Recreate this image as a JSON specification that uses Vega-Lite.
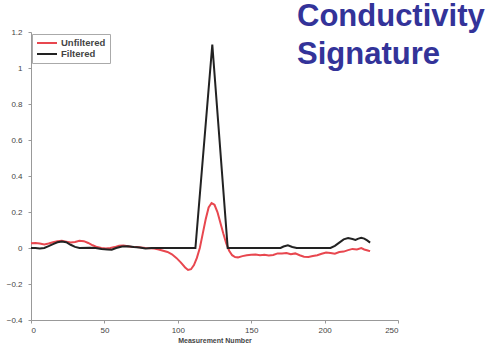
{
  "$schema": "https://vega.github.io/schema/vega-lite/v6.json",
  "width": 367,
  "height": 288,
  "autosize": {"type": "none"},
  "padding": {"left": 31, "top": 32, "right": 94, "bottom": 26},
  "background": "white",
  "title": {
    "text": ["Conductivity", "Signature"],
    "anchor": "end",
    "frame": "group",
    "align": "left",
    "baseline": "top",
    "dx": -101,
    "dy": 43,
    "offset": 0,
    "font": "Liberation Sans",
    "fontSize": 31,
    "fontWeight": "bold",
    "color": "#333399",
    "lineHeight": 38
  },
  "config": {
    "view": {"stroke": null},
    "axis": {
      "grid": false,
      "domainColor": "#999999",
      "tickColor": "#999999",
      "labelFont": "Liberation Sans",
      "labelFontSize": 8,
      "labelColor": "#444444",
      "titleFont": "Liberation Sans",
      "titleFontSize": 7,
      "titleFontWeight": "bold",
      "titleColor": "#444444"
    }
  },
  "data": {
    "values": [
      {"m": 0, "v": 0.026, "s": "Unfiltered"},
      {"m": 3, "v": 0.028, "s": "Unfiltered"},
      {"m": 6, "v": 0.025, "s": "Unfiltered"},
      {"m": 9, "v": 0.02, "s": "Unfiltered"},
      {"m": 12, "v": 0.025, "s": "Unfiltered"},
      {"m": 15, "v": 0.032, "s": "Unfiltered"},
      {"m": 18, "v": 0.038, "s": "Unfiltered"},
      {"m": 21, "v": 0.04, "s": "Unfiltered"},
      {"m": 24, "v": 0.035, "s": "Unfiltered"},
      {"m": 27, "v": 0.03, "s": "Unfiltered"},
      {"m": 30, "v": 0.033, "s": "Unfiltered"},
      {"m": 33, "v": 0.04, "s": "Unfiltered"},
      {"m": 36, "v": 0.038, "s": "Unfiltered"},
      {"m": 39, "v": 0.028, "s": "Unfiltered"},
      {"m": 42, "v": 0.015, "s": "Unfiltered"},
      {"m": 45, "v": 0.005, "s": "Unfiltered"},
      {"m": 48, "v": 0.0, "s": "Unfiltered"},
      {"m": 51, "v": -0.003, "s": "Unfiltered"},
      {"m": 54, "v": 0.0, "s": "Unfiltered"},
      {"m": 57, "v": 0.005, "s": "Unfiltered"},
      {"m": 60, "v": 0.012, "s": "Unfiltered"},
      {"m": 63, "v": 0.014, "s": "Unfiltered"},
      {"m": 66, "v": 0.01, "s": "Unfiltered"},
      {"m": 69, "v": 0.006, "s": "Unfiltered"},
      {"m": 72, "v": 0.005, "s": "Unfiltered"},
      {"m": 75, "v": 0.003, "s": "Unfiltered"},
      {"m": 78, "v": 0.0, "s": "Unfiltered"},
      {"m": 81, "v": -0.002, "s": "Unfiltered"},
      {"m": 84, "v": -0.003, "s": "Unfiltered"},
      {"m": 87, "v": -0.008, "s": "Unfiltered"},
      {"m": 90, "v": -0.015, "s": "Unfiltered"},
      {"m": 93, "v": -0.022, "s": "Unfiltered"},
      {"m": 96, "v": -0.035, "s": "Unfiltered"},
      {"m": 99, "v": -0.055, "s": "Unfiltered"},
      {"m": 102, "v": -0.08, "s": "Unfiltered"},
      {"m": 105, "v": -0.108, "s": "Unfiltered"},
      {"m": 107, "v": -0.122, "s": "Unfiltered"},
      {"m": 109, "v": -0.118, "s": "Unfiltered"},
      {"m": 111, "v": -0.095, "s": "Unfiltered"},
      {"m": 113, "v": -0.055, "s": "Unfiltered"},
      {"m": 115, "v": 0.0, "s": "Unfiltered"},
      {"m": 117, "v": 0.08, "s": "Unfiltered"},
      {"m": 119, "v": 0.16, "s": "Unfiltered"},
      {"m": 121, "v": 0.225, "s": "Unfiltered"},
      {"m": 123, "v": 0.25, "s": "Unfiltered"},
      {"m": 125, "v": 0.24, "s": "Unfiltered"},
      {"m": 127, "v": 0.2, "s": "Unfiltered"},
      {"m": 129, "v": 0.14, "s": "Unfiltered"},
      {"m": 131, "v": 0.08, "s": "Unfiltered"},
      {"m": 133, "v": 0.025, "s": "Unfiltered"},
      {"m": 135, "v": -0.015, "s": "Unfiltered"},
      {"m": 137, "v": -0.04, "s": "Unfiltered"},
      {"m": 139, "v": -0.05, "s": "Unfiltered"},
      {"m": 141, "v": -0.052, "s": "Unfiltered"},
      {"m": 144, "v": -0.045, "s": "Unfiltered"},
      {"m": 147, "v": -0.04, "s": "Unfiltered"},
      {"m": 150, "v": -0.038, "s": "Unfiltered"},
      {"m": 153, "v": -0.036, "s": "Unfiltered"},
      {"m": 156, "v": -0.04, "s": "Unfiltered"},
      {"m": 159, "v": -0.038, "s": "Unfiltered"},
      {"m": 162, "v": -0.042, "s": "Unfiltered"},
      {"m": 165, "v": -0.039, "s": "Unfiltered"},
      {"m": 168, "v": -0.03, "s": "Unfiltered"},
      {"m": 171, "v": -0.03, "s": "Unfiltered"},
      {"m": 174, "v": -0.028, "s": "Unfiltered"},
      {"m": 177, "v": -0.035, "s": "Unfiltered"},
      {"m": 180, "v": -0.03, "s": "Unfiltered"},
      {"m": 183, "v": -0.04, "s": "Unfiltered"},
      {"m": 186, "v": -0.048, "s": "Unfiltered"},
      {"m": 189, "v": -0.05, "s": "Unfiltered"},
      {"m": 192, "v": -0.045, "s": "Unfiltered"},
      {"m": 195, "v": -0.04, "s": "Unfiltered"},
      {"m": 198, "v": -0.032, "s": "Unfiltered"},
      {"m": 201, "v": -0.025, "s": "Unfiltered"},
      {"m": 204, "v": -0.028, "s": "Unfiltered"},
      {"m": 207, "v": -0.032, "s": "Unfiltered"},
      {"m": 210, "v": -0.022, "s": "Unfiltered"},
      {"m": 213, "v": -0.02, "s": "Unfiltered"},
      {"m": 216, "v": -0.012, "s": "Unfiltered"},
      {"m": 219, "v": -0.005, "s": "Unfiltered"},
      {"m": 222, "v": -0.008, "s": "Unfiltered"},
      {"m": 225, "v": 0.0, "s": "Unfiltered"},
      {"m": 227, "v": -0.008, "s": "Unfiltered"},
      {"m": 230, "v": -0.015, "s": "Unfiltered"},
      {"m": 231, "v": -0.017, "s": "Unfiltered"},
      {"m": 0, "v": 0.0, "s": "Filtered"},
      {"m": 3, "v": 0.0, "s": "Filtered"},
      {"m": 6, "v": -0.003, "s": "Filtered"},
      {"m": 9, "v": 0.0, "s": "Filtered"},
      {"m": 12, "v": 0.01, "s": "Filtered"},
      {"m": 15, "v": 0.022, "s": "Filtered"},
      {"m": 18, "v": 0.032, "s": "Filtered"},
      {"m": 21, "v": 0.036, "s": "Filtered"},
      {"m": 24, "v": 0.032, "s": "Filtered"},
      {"m": 27, "v": 0.018, "s": "Filtered"},
      {"m": 30, "v": 0.006, "s": "Filtered"},
      {"m": 33, "v": 0.0, "s": "Filtered"},
      {"m": 40, "v": 0.002, "s": "Filtered"},
      {"m": 44, "v": 0.0, "s": "Filtered"},
      {"m": 48, "v": -0.005, "s": "Filtered"},
      {"m": 52, "v": -0.008, "s": "Filtered"},
      {"m": 55, "v": -0.01, "s": "Filtered"},
      {"m": 58, "v": 0.0, "s": "Filtered"},
      {"m": 62, "v": 0.008, "s": "Filtered"},
      {"m": 66, "v": 0.01, "s": "Filtered"},
      {"m": 70, "v": 0.005, "s": "Filtered"},
      {"m": 74, "v": 0.003, "s": "Filtered"},
      {"m": 78, "v": -0.003, "s": "Filtered"},
      {"m": 82, "v": 0.0, "s": "Filtered"},
      {"m": 90, "v": 0.0, "s": "Filtered"},
      {"m": 100, "v": 0.0, "s": "Filtered"},
      {"m": 112, "v": 0.0, "s": "Filtered"},
      {"m": 123.5, "v": 1.13, "s": "Filtered"},
      {"m": 134, "v": 0.0, "s": "Filtered"},
      {"m": 150, "v": 0.0, "s": "Filtered"},
      {"m": 170, "v": 0.0, "s": "Filtered"},
      {"m": 172, "v": 0.008, "s": "Filtered"},
      {"m": 175, "v": 0.015, "s": "Filtered"},
      {"m": 178, "v": 0.006, "s": "Filtered"},
      {"m": 181, "v": 0.0, "s": "Filtered"},
      {"m": 204, "v": 0.0, "s": "Filtered"},
      {"m": 207, "v": 0.012, "s": "Filtered"},
      {"m": 210, "v": 0.03, "s": "Filtered"},
      {"m": 213, "v": 0.048, "s": "Filtered"},
      {"m": 216, "v": 0.055, "s": "Filtered"},
      {"m": 219, "v": 0.05, "s": "Filtered"},
      {"m": 221, "v": 0.045, "s": "Filtered"},
      {"m": 223, "v": 0.052, "s": "Filtered"},
      {"m": 225, "v": 0.057, "s": "Filtered"},
      {"m": 227, "v": 0.052, "s": "Filtered"},
      {"m": 229, "v": 0.042, "s": "Filtered"},
      {"m": 231, "v": 0.03, "s": "Filtered"}
    ]
  },
  "encoding": {
    "x": {
      "field": "m",
      "type": "quantitative",
      "scale": {"domain": [0, 250], "nice": false},
      "axis": {"values": [0, 50, 100, 150, 200, 250], "title": "Measurement Number", "tickSize": 3, "labelPadding": 3, "titlePadding": 2}
    },
    "y": {
      "field": "v",
      "type": "quantitative",
      "scale": {"domain": [-0.4, 1.2], "nice": false, "zero": false},
      "axis": {"values": [-0.4, -0.2, 0, 0.2, 0.4, 0.6, 0.8, 1, 1.2], "format": "~g", "title": null, "tickSize": 3, "labelPadding": 6}
    },
    "color": {
      "field": "s",
      "type": "nominal",
      "scale": {"domain": ["Unfiltered", "Filtered"], "range": ["#e8474f", "#222222"]},
      "legend": {
        "title": null,
        "orient": "none",
        "legendX": 1,
        "legendY": 2,
        "padding": 4,
        "fillColor": "white",
        "strokeColor": "#aaaaaa",
        "symbolType": "stroke",
        "symbolSize": 400,
        "symbolStrokeWidth": 2,
        "clipHeight": 10,
        "labelFont": "Liberation Sans",
        "labelFontSize": 9.5,
        "labelFontWeight": "bold",
        "labelColor": "#444444",
        "labelOffset": 3,
        "rowPadding": 1
      }
    }
  },
  "layer": [
    {"transform": [{"filter": "datum.s === 'Unfiltered'"}], "mark": {"type": "line", "strokeWidth": 2}},
    {"transform": [{"filter": "datum.s === 'Filtered'"}], "mark": {"type": "line", "strokeWidth": 2}}
  ]
}
